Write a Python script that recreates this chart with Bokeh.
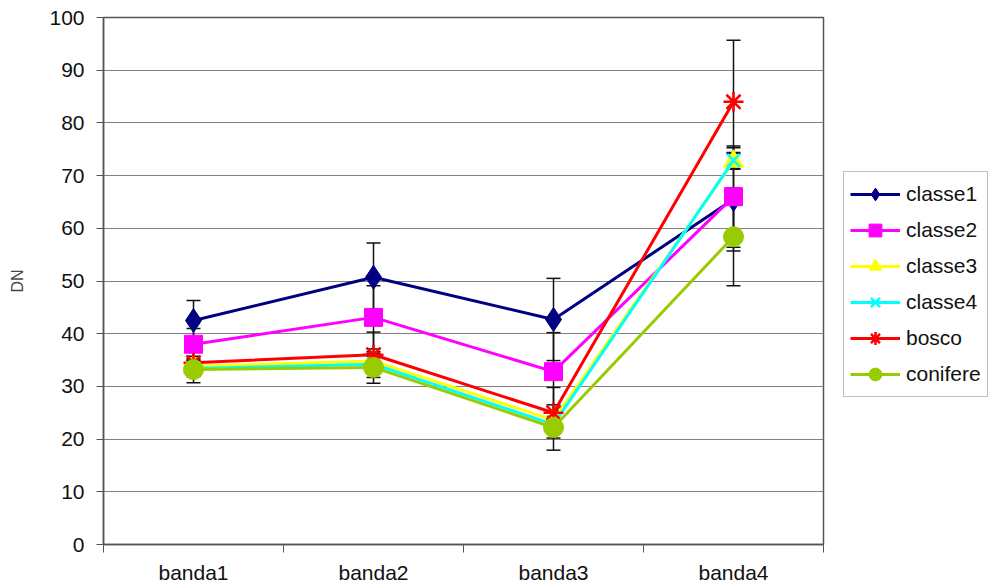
from bokeh.plotting import figure
from bokeh.layouts import row
from bokeh.models import (Range1d, FixedTicker, Legend, LegendItem, ColumnDataSource,
                          Whisker, TeeHead)
from bokeh.embed import file_html
from bokeh.resources import INLINE

bands = ["banda1", "banda2", "banda3", "banda4"]
x_pos = [0.5, 1.5, 2.5, 3.5]
y_ticks = [0, 10, 20, 30, 40, 50, 60, 70, 80, 90, 100]

names = ["classe1", "classe2", "classe3", "classe4", "bosco", "conifere"]
classe1 = [42.5, 50.7, 42.7, 65.5]
classe2 = [38.0, 43.1, 32.8, 66.0]
classe3 = [33.8, 34.8, 23.6, 72.7]
classe4 = [33.4, 34.2, 22.8, 72.9]
bosco = [34.5, 36.0, 25.0, 84.0]
conifere = [33.2, 33.6, 22.2, 58.4]

err_classe1 = [3.8, 6.5, 7.8, 9.8]
err_classe2 = [3.0, 6.0, 7.4, 9.6]
err_classe3 = [1.5, 1.5, 1.5, 1.5]
err_classe4 = [1.5, 1.5, 1.5, 1.5]
err_bosco = [2.0, 4.3, 4.8, 11.7]
err_conifere = [2.5, 3.0, 4.3, 9.3]

values = [classe1, classe2, classe3, classe4, bosco, conifere]
errors = [err_classe1, err_classe2, err_classe3, err_classe4, err_bosco, err_conifere]
colors = ["#000080", "#FF00FF", "#FFFF00", "#00FFFF", "#FF0000", "#99CC00"]
markers = ["diamond", "square", "triangle", "x", "asterisk", "circle"]
sizes = [24, 18, 20, 18, 20, 20]

FONT = "Liberation Sans"
H = 586

p = figure(width=828, height=H, output_backend="svg", toolbar_location=None,
           x_range=Range1d(0, 4), y_range=Range1d(0, 100),
           min_border_left=103, min_border_right=5, min_border_top=17,
           min_border_bottom=42)
p.outline_line_color = "#555555"
p.outline_line_width = 1.5
p.background_fill_color = "white"
p.border_fill_color = "white"

# axes
p.xaxis.ticker = FixedTicker(ticks=x_pos, minor_ticks=[0, 1, 2, 3, 4])
p.xaxis.major_label_overrides = {x: b for x, b in zip(x_pos, bands)}
p.xaxis.major_tick_out = 0
p.xaxis.major_tick_in = 0
p.xaxis.minor_tick_out = 8
p.xaxis.minor_tick_in = 0
p.xaxis.minor_tick_line_color = "#555555"
p.xaxis.major_label_standoff = 8
p.xaxis.major_label_text_font = FONT
p.xaxis.major_label_text_font_size = "21px"
p.xaxis.major_label_text_color = "#111111"
p.xaxis.axis_line_color = "#555555"
p.xaxis.axis_line_width = 1.5

p.yaxis.ticker = FixedTicker(ticks=y_ticks)
p.yaxis.major_tick_out = 7
p.yaxis.major_tick_in = 0
p.yaxis.minor_tick_line_color = None
p.yaxis.major_tick_line_color = "#555555"
p.yaxis.major_label_standoff = 12
p.yaxis.major_label_text_font = FONT
p.yaxis.major_label_text_font_size = "21px"
p.yaxis.major_label_text_color = "#111111"
p.yaxis.axis_line_color = "#555555"
p.yaxis.axis_line_width = 1.5
p.yaxis.axis_label = "DN"
p.yaxis.axis_label_text_font = FONT
p.yaxis.axis_label_text_font_size = "16px"
p.yaxis.axis_label_text_font_style = "normal"
p.yaxis.axis_label_standoff = 20

p.xgrid.grid_line_color = None
p.ygrid.grid_line_color = "#808080"
p.ygrid.grid_line_width = 1.2
p.ygrid.ticker = FixedTicker(ticks=y_ticks)

# error bars
for vals, errs in zip(values, errors):
    src = ColumnDataSource(dict(x=x_pos,
                                lower=[v - e for v, e in zip(vals, errs)],
                                upper=[v + e for v, e in zip(vals, errs)]))
    w = Whisker(source=src, base="x", lower="lower", upper="upper",
                line_color="#111111", line_width=1.5,
                upper_head=TeeHead(size=14, line_color="#111111", line_width=1.5),
                lower_head=TeeHead(size=14, line_color="#111111", line_width=1.5))
    p.add_layout(w)

for name, vals, col, mk, sz in zip(names, values, colors, markers, sizes):
    src = ColumnDataSource(dict(x=x_pos, y=vals))
    p.line("x", "y", source=src, line_color=col, line_width=3)
    lw = 2.5 if mk in ("x", "asterisk") else 1
    p.scatter("x", "y", source=src, marker=mk, size=sz,
              fill_color=col, line_color=col, line_width=lw)

# legend panel (separate figure whose glyphs sit outside its view)
lg = figure(width=160, height=H, output_backend="svg", toolbar_location=None,
            x_range=Range1d(100, 101), y_range=Range1d(0, 100),
            x_axis_type=None, y_axis_type=None,
            min_border_left=0, min_border_right=0, min_border_top=0,
            min_border_bottom=0)
lg.outline_line_color = None
lg.xgrid.grid_line_color = None
lg.ygrid.grid_line_color = None

items = []
for name, vals, col, mk, sz in zip(names, values, colors, markers, sizes):
    src = ColumnDataSource(dict(x=x_pos, y=vals))
    lr = lg.line("x", "y", source=src, line_color=col, line_width=3)
    lw = 2.5 if mk in ("x", "asterisk") else 1
    sr = lg.scatter("x", "y", source=src, marker=mk, size=sz,
                    fill_color=col, line_color=col, line_width=lw)
    items.append(LegendItem(label=name, renderers=[lr, sr]))

legend = Legend(items=items, location=(15, 147))
legend.label_text_font = FONT
legend.label_text_font_size = "21px"
legend.label_text_color = "#111111"
legend.glyph_width = 50
legend.glyph_height = 32
legend.label_height = 32
legend.spacing = 4
legend.padding = 6
legend.margin = 0
legend.border_line_color = "#808080"
legend.border_line_width = 1.5
legend.background_fill_color = "white"
legend.label_standoff = 6
lg.add_layout(legend)

layout = row(p, lg)
open("out.html", "w").write(file_html(layout, INLINE))
